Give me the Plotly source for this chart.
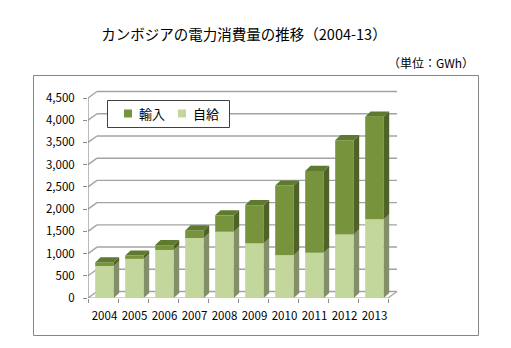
import plotly.graph_objects as go

# Cambodia electricity consumption (GWh), 2004-2013
years = ["2004", "2005", "2006", "2007", "2008", "2009", "2010", "2011", "2012", "2013"]
domestic = [720, 880, 1080, 1350, 1490, 1230, 960, 1020, 1430, 1770]      # 自給
imported = [80, 75, 110, 170, 370, 860, 1570, 1840, 2120, 2310]          # 輸入
y_ticks = [0, 500, 1000, 1500, 2000, 2500, 3000, 3500, 4000, 4500]
series_names = ["輸入", "自給"]

FONT = "Noto Sans CJK JP"
C_DOM, C_DOM_SIDE = "#C3D69B", "#838F69"
C_IMP, C_IMP_SIDE, C_IMP_TOP = "#77933C", "#4F6228", "#5E7A2E"
GRID = "#A3A3A3"

# pseudo-3D geometry (category units / value units)
WALL_DX, WALL_DY = 0.30, 146     # depth of the back wall
BAR_DX, BAR_DY = 0.18, 115       # depth of each column
BAR_W, BAR_OFF = 0.62, 0.55

n = len(years)
xc = [i + BAR_OFF for i in range(n)]
totals = [d + m for d, m in zip(domestic, imported)]

fig = go.Figure()

# front faces
fig.add_trace(go.Bar(x=xc, y=domestic, width=BAR_W, name=series_names[1],
                     marker=dict(color=C_DOM, line=dict(width=0))))
fig.add_trace(go.Bar(x=xc, y=imported, base=domestic, width=BAR_W, name=series_names[0],
                     marker=dict(color=C_IMP, line=dict(width=0))))


def add_poly(xs, ys, color):
    fig.add_trace(go.Scatter(x=xs, y=ys, mode="lines", fill="toself", fillcolor=color,
                             line=dict(width=0, color=color), showlegend=False,
                             hoverinfo="skip"))


# side faces
for lo_list, hi_list, col in ((None, domestic, C_DOM_SIDE), (domestic, totals, C_IMP_SIDE)):
    xs, ys = [], []
    for i in range(n):
        lo = 0 if lo_list is None else lo_list[i]
        hi = hi_list[i]
        xr = xc[i] + BAR_W / 2
        xs += [xr, xr + BAR_DX, xr + BAR_DX, xr, xr, None]
        ys += [lo, lo + BAR_DY, hi + BAR_DY, hi, lo, None]
    add_poly(xs, ys, col)

# top caps
xs, ys = [], []
for i in range(n):
    xl, xr, t = xc[i] - BAR_W / 2, xc[i] + BAR_W / 2, totals[i]
    xs += [xl, xl + BAR_DX, xr + BAR_DX, xr, xl, None]
    ys += [t, t + BAR_DY, t + BAR_DY, t, t, None]
add_poly(xs, ys, C_IMP_TOP)

# walls, floor and axis lines
shapes = []
for v in y_ticks:
    shapes.append(dict(type="line", xref="x", yref="y", x0=WALL_DX, x1=n + WALL_DX,
                       y0=v + WALL_DY, y1=v + WALL_DY, line=dict(color=GRID, width=1.4),
                       layer="below"))
    shapes.append(dict(type="line", xref="x", yref="y", x0=0, x1=WALL_DX,
                       y0=v, y1=v + WALL_DY, line=dict(color=GRID, width=1.4),
                       layer="below"))
shapes.append(dict(type="line", xref="x", yref="y", x0=n, x1=n + WALL_DX, y0=0, y1=WALL_DY,
                   line=dict(color=GRID, width=1.2), layer="below"))
shapes.append(dict(type="line", xref="x", yref="y", x0=0, x1=n, y0=0, y1=0,
                   line=dict(color=GRID, width=1.2), layer="below"))
shapes.append(dict(type="line", xref="x", yref="y", x0=0, x1=0, y0=0, y1=y_ticks[-1],
                   line=dict(color="#8C8C8C", width=1.2), layer="below"))

# page geometry
L, R, T, B = 88, 112, 90, 50
W, H = 511, 348
pw, ph = W - L - R, H - T - B


def px_to_paper(px, py):
    return (px - L) / pw, (H - B - py) / ph


# outer chart frame
fx0, fy0 = px_to_paper(33.5, 335.5)
fx1, fy1 = px_to_paper(478.5, 75.5)
shapes.append(dict(type="rect", xref="paper", yref="paper", x0=fx0, x1=fx1, y0=fy0, y1=fy1,
                   line=dict(color="#868686", width=1), fillcolor="rgba(0,0,0,0)",
                   layer="below"))

annotations = []

# legend box with swatches
bx0, by0 = px_to_paper(107.5, 127.5)
bx1, by1 = px_to_paper(229.5, 100.5)
shapes.append(dict(type="rect", xref="paper", yref="paper", x0=bx0, x1=bx1, y0=by0, y1=by1,
                   line=dict(color="#404040", width=1), fillcolor="white", layer="above"))
for name, col, sx in ((series_names[0], C_IMP, 124), (series_names[1], C_DOM, 178)):
    sx0, sy0 = px_to_paper(sx, 117.5)
    sx1, sy1 = px_to_paper(sx + 8, 109.5)
    shapes.append(dict(type="rect", xref="paper", yref="paper", x0=sx0, x1=sx1, y0=sy0,
                       y1=sy1, line=dict(width=0), fillcolor=col, layer="above"))
    tx, ty = px_to_paper(sx + 12.5, 113.5)
    annotations.append(dict(text=name, xref="paper", yref="paper", x=tx, y=ty,
                            xanchor="left", yanchor="middle", showarrow=False,
                            font=dict(family=FONT, size=13)))

ux, uy = px_to_paper(476, 62)
annotations.append(dict(text="（単位：GWh）", xref="paper", yref="paper", x=ux, y=uy,
                        xanchor="right", yanchor="middle", showarrow=False,
                        font=dict(family=FONT, size=12)))

fig.update_layout(
    width=W, height=H,
    margin=dict(l=L, r=R, t=T, b=B),
    paper_bgcolor="white", plot_bgcolor="white",
    barmode="overlay",
    showlegend=False,
    font=dict(family=FONT, size=11.5, color="#000000"),
    title=dict(text="カンボジアの電力消費量の推移（2004-13）", x=244 / W, y=1 - 35 / H,
               xanchor="center", yanchor="middle", font=dict(family=FONT, size=14.5)),
    xaxis=dict(range=[0, pw / 30], tickmode="array", tickvals=xc, ticktext=years,
               ticks="outside", ticklen=7, tickcolor="rgba(0,0,0,0)",
               minor=dict(tickmode="array", tickvals=list(range(n + 1)), ticks="outside",
                          ticklen=4, tickcolor="#8C8C8C", showgrid=False),
               showgrid=False, zeroline=False, showline=False, fixedrange=True),
    yaxis=dict(range=[0, ph * 4500 / 200], tickmode="array", tickvals=y_ticks,
               tickformat=",", ticks="outside", ticklen=4, tickcolor="#8C8C8C",
               ticklabelstandoff=6,
               showgrid=False, zeroline=False, showline=False, fixedrange=True),
    shapes=shapes,
    annotations=annotations,
)

fig.write_html("out.html")
